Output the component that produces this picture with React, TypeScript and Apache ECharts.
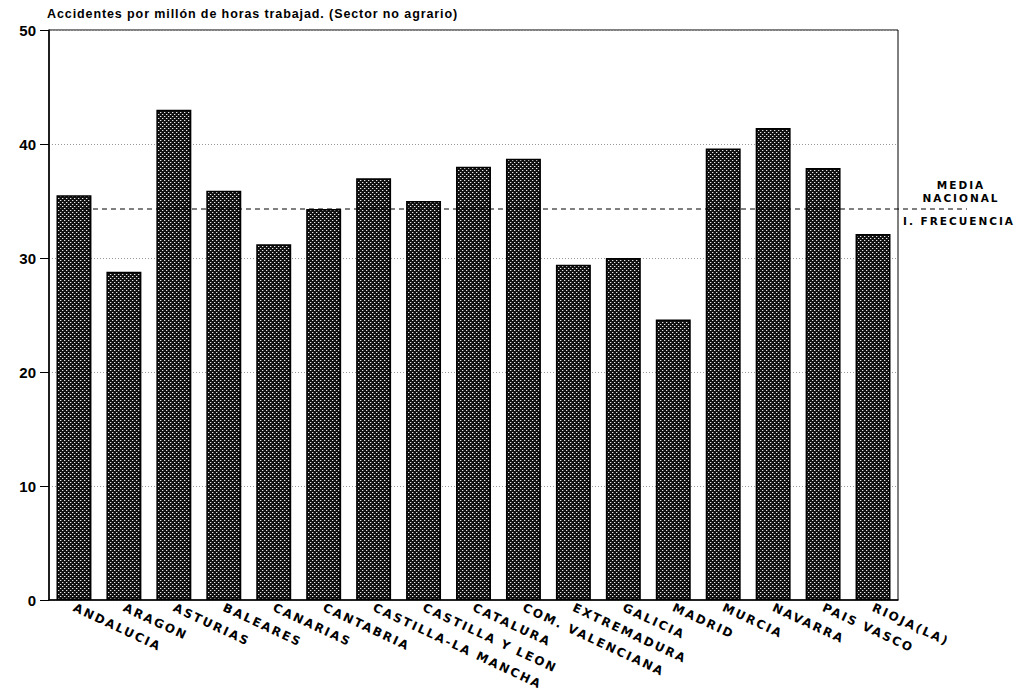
import React, { useEffect, useRef } from "react";
import * as echarts from "echarts";

const categories = [
  "ANDALUCIA", "ARAGON", "ASTURIAS", "BALEARES", "CANARIAS", "CANTABRIA",
  "CASTILLA-LA MANCHA", "CASTILLA Y LEON", "CATALURA", "COM. VALENCIANA",
  "EXTREMADURA", "GALICIA", "MADRID", "MURCIA", "NAVARRA", "PAIS VASCO", "RIOJA(LA)",
];
const values = [35.5, 28.8, 43.0, 35.9, 31.2, 34.3, 37.0, 35.0, 38.0, 38.7, 29.4, 30.0, 24.6, 39.6, 41.4, 37.9, 32.1];
const mediaNacional = 34.3;
const yTicks = { min: 0, max: 50, interval: 10 };
const titleText = "Accidentes por millón de horas trabajad. (Sector no agrario)";
const mediaLabels = ["MEDIA", "NACIONAL"];
const frecLabel = "I. FRECUENCIA";

function makePattern(): HTMLCanvasElement {
  const c = document.createElement("canvas");
  c.width = 4;
  c.height = 4;
  const ctx = c.getContext("2d")!;
  ctx.fillStyle = "#111";
  ctx.fillRect(0, 0, 4, 4);
  ctx.fillStyle = "#e8e8e8";
  ctx.fillRect(0, 0, 1, 1);
  ctx.fillRect(2, 2, 1, 1);
  ctx.fillStyle = "#555";
  ctx.fillRect(1, 0, 1, 1);
  ctx.fillRect(3, 2, 1, 1);
  return c;
}

const TITLE_FONT = "'Liberation Sans', Helvetica, sans-serif";
const WIDE_FONT = "'DejaVu Sans', Verdana, sans-serif";
const NUM_FONT = "'Liberation Sans', Arial, sans-serif";

const css = `
.chartbox text[style*="Helvetica"], .chartbox text[font-family*="Helvetica"] { letter-spacing: 0.9px; }
.chartbox text[style*="Verdana"], .chartbox text[font-family*="Verdana"] { letter-spacing: 2px; }
`;

export default function App() {
  const ref = useRef<HTMLDivElement>(null);
  useEffect(() => {
    if (!ref.current) return;
    const chart = echarts.init(ref.current, undefined, { renderer: "svg" });
    const pattern = makePattern();
    const titleGraphic = {
      type: "text",
      left: 47,
      top: 7,
      style: { text: titleText, fill: "#000", font: `bold 12.5px ${TITLE_FONT}` },
    };
    chart.setOption({
      animation: false,
      backgroundColor: "#fff",
      grid: { left: 49, right: 129, top: 30, bottom: 96, show: true, borderColor: "#000", borderWidth: 1 },
      xAxis: {
        type: "category",
        data: categories,
        axisTick: { show: false },
        axisLine: { lineStyle: { color: "#000", width: 1.5 } },
        axisLabel: {
          interval: 0,
          rotate: -25,
          margin: 7,
          color: "#000",
          fontFamily: WIDE_FONT,
          fontWeight: "bold",
          fontSize: 12,
        },
      },
      yAxis: {
        type: "value",
        min: yTicks.min,
        max: yTicks.max,
        interval: yTicks.interval,
        axisLine: { show: true, lineStyle: { color: "#000", width: 1.5 } },
        axisTick: { show: true, length: 9, lineStyle: { color: "#000", width: 1 } },
        axisLabel: { color: "#000", fontFamily: NUM_FONT, fontWeight: "bold", fontSize: 15, margin: 13 },
        splitLine: { show: true, lineStyle: { color: "#999", type: [1, 2], width: 1 } },
      },
      series: [
        {
          type: "bar",
          data: values,
          barCategoryGap: "30%",
          itemStyle: {
            color: { image: pattern, repeat: "repeat" },
            borderColor: "#000",
            borderWidth: 1.5,
          },
        },
      ],
      graphic: [titleGraphic],
    });

    const y = chart.convertToPixel({ yAxisIndex: 0 }, mediaNacional) as number;
    const x0 = (chart.convertToPixel({ xAxisIndex: 0 }, 0) as number) - 17;
    const x1 = 967;
    chart.setOption({
      graphic: [
        titleGraphic,
        {
          type: "line",
          shape: { x1: x0, y1: y, x2: x1, y2: y },
          style: { stroke: "#000", lineWidth: 1.2, lineDash: [5, 4] },
          z: 10,
        },
        {
          type: "text",
          x: 961,
          y: y - 30,
          style: { text: mediaLabels.join("\n"), fill: "#000", font: `bold 10.5px ${WIDE_FONT}`, align: "center", lineHeight: 13 },
        },
        {
          type: "text",
          x: 903,
          y: y + 7,
          style: { text: frecLabel, fill: "#000", font: `bold 10.5px ${WIDE_FONT}`, align: "left" },
        },
      ],
    });
    return () => chart.dispose();
  }, []);
  return (
    <>
      <style>{css}</style>
      <div
        ref={ref}
        className="chartbox"
        style={{ position: "fixed", left: 0, top: 0, width: 1027, height: 696, background: "#fff" }}
      />
    </>
  );
}
